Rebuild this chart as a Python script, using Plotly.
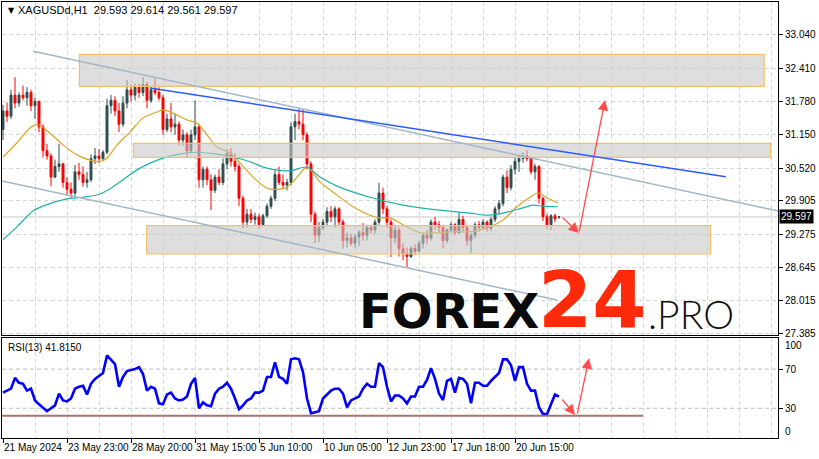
import plotly.graph_objects as go

# ---------------- data ----------------
symbol_title = "XAGUSDd,H1\u00a0\u00a029.593 29.614 29.561 29.597"
rsi_title = "RSI(13) 41.8150"
last_price = 29.597

# candles (one candle per slot)
c_open = [31.25, 31.60, 31.50, 31.90, 31.75, 31.90, 31.85, 31.95, 31.70, 31.78,
          31.30, 30.85, 30.75, 30.35, 30.55, 30.60, 30.25, 30.12, 30.05, 30.45,
          30.40, 30.25, 30.30, 30.70, 30.75, 30.70, 30.82, 31.70, 31.80, 31.60,
          31.35, 31.75, 32.00, 31.90, 32.05, 31.95, 32.10, 31.80, 32.00, 31.95,
          31.85, 31.25, 31.45, 31.30, 31.35, 31.05, 31.15, 30.85, 31.15, 31.30,
          30.30, 30.50, 30.30, 30.10, 30.35, 30.25, 30.60, 30.80, 30.65, 30.55,
          29.95, 29.50, 29.65, 29.55, 29.60, 29.45, 29.62, 29.80, 29.95, 30.40,
          30.25, 30.20, 30.25, 31.30, 31.40, 31.35, 31.15, 30.60, 29.65, 29.25,
          29.40, 29.50, 29.70, 29.60, 29.75, 29.50, 29.15, 29.20, 29.10, 29.22,
          29.30, 29.25, 29.40, 29.35, 29.50, 30.05, 29.75, 29.50, 29.20, 29.35,
          29.00, 28.90, 28.85, 29.00, 28.95, 29.10, 29.25, 29.20, 29.50, 29.45,
          29.40, 29.15, 29.35, 29.45, 29.30, 29.55, 29.40, 29.15, 29.25, 29.45,
          29.40, 29.50, 29.38, 29.55, 29.75, 29.85, 30.35, 30.15, 30.50, 30.65,
          30.70, 30.75, 30.70, 30.45, 30.55, 29.95, 29.60, 29.45, 29.62, 29.593]
c_high = [31.72, 31.76, 32.00, 32.24, 31.95, 32.08, 32.05, 32.00, 31.85, 31.80,
          31.35, 30.98, 30.80, 30.68, 30.98, 30.62, 30.35, 30.25, 30.58, 30.62,
          30.55, 30.45, 30.78, 30.90, 30.88, 30.86, 31.83, 31.90, 31.88, 31.75,
          31.88, 32.19, 32.10, 32.12, 32.12, 32.24, 32.15, 32.05, 32.22, 32.05,
          31.90, 31.55, 31.75, 31.55, 31.40, 31.25, 31.20, 31.25, 31.80, 31.35,
          30.55, 30.55, 30.40, 30.40, 30.50, 30.70, 30.88, 30.90, 30.80, 30.60,
          30.00, 29.75, 29.75, 29.68, 29.65, 29.66, 29.85, 30.00, 30.48, 30.55,
          30.40, 30.32, 31.38, 31.55, 31.65, 31.63, 31.20, 30.65, 29.70, 29.50,
          29.56, 29.78, 29.80, 29.80, 29.78, 29.55, 29.30, 29.28, 29.27, 29.35,
          29.48, 29.45, 29.45, 29.55, 30.24, 30.15, 29.80, 29.55, 29.45, 29.40,
          29.10, 29.02, 29.05, 29.08, 29.15, 29.30, 29.35, 29.55, 29.60, 29.52,
          29.45, 29.38, 29.50, 29.48, 29.68, 29.62, 29.45, 29.30, 29.50, 29.52,
          29.55, 29.53, 29.60, 29.80, 29.92, 30.40, 30.48, 30.58, 30.72, 30.76,
          30.82, 30.86, 30.72, 30.60, 30.58, 29.98, 29.65, 29.65, 29.66, 29.614]
c_low = [31.05, 31.39, 31.45, 31.65, 31.68, 31.80, 31.70, 31.60, 31.45, 31.20,
         30.72, 30.68, 30.18, 30.33, 30.45, 30.15, 30.00, 29.96, 30.00, 30.30,
         30.17, 30.15, 30.25, 30.60, 30.62, 30.66, 30.78, 31.55, 31.50, 31.20,
         31.30, 31.65, 31.78, 31.80, 31.85, 31.88, 31.65, 31.75, 31.90, 31.80,
         31.15, 31.20, 31.20, 31.15, 30.95, 30.95, 30.72, 30.80, 31.05, 30.15,
         30.15, 30.20, 29.73, 30.05, 30.20, 30.20, 30.50, 30.55, 30.45, 29.80,
         29.38, 29.40, 29.48, 29.45, 29.38, 29.42, 29.58, 29.75, 29.90, 30.20,
         30.12, 30.10, 30.20, 31.05, 31.25, 31.05, 30.50, 29.50, 29.10, 29.12,
         29.35, 29.42, 29.50, 29.40, 29.42, 29.00, 29.02, 29.05, 29.02, 29.05,
         29.15, 29.15, 29.28, 29.28, 29.45, 29.65, 29.40, 28.84, 29.10, 28.85,
         28.78, 28.65, 28.82, 28.88, 28.92, 29.00, 29.08, 29.15, 29.35, 29.30,
         29.00, 29.10, 29.30, 29.25, 29.28, 29.30, 29.05, 28.92, 29.20, 29.32,
         29.35, 29.32, 29.33, 29.50, 29.65, 29.80, 30.05, 30.10, 30.40, 30.45,
         30.62, 30.65, 30.40, 30.30, 29.85, 29.52, 29.38, 29.35, 29.50, 29.561]
c_close = [31.60, 31.50, 31.90, 31.75, 31.90, 31.85, 31.95, 31.70, 31.78, 31.30,
           30.85, 30.75, 30.35, 30.55, 30.60, 30.25, 30.12, 30.05, 30.45, 30.40,
           30.25, 30.30, 30.70, 30.75, 30.70, 30.82, 31.70, 31.80, 31.60, 31.35,
           31.75, 32.00, 31.90, 32.05, 31.95, 32.10, 31.80, 32.00, 31.95, 31.85,
           31.25, 31.45, 31.30, 31.35, 31.05, 31.15, 30.85, 31.15, 31.30, 30.30,
           30.50, 30.30, 30.10, 30.35, 30.25, 30.60, 30.80, 30.65, 30.55, 29.95,
           29.50, 29.65, 29.55, 29.60, 29.45, 29.62, 29.80, 29.95, 30.40, 30.25,
           30.20, 30.25, 31.30, 31.40, 31.35, 31.15, 30.60, 29.65, 29.25, 29.40,
           29.50, 29.70, 29.60, 29.75, 29.50, 29.15, 29.20, 29.10, 29.22, 29.30,
           29.25, 29.40, 29.35, 29.50, 30.05, 29.75, 29.50, 29.20, 29.35, 29.00,
           28.90, 28.85, 29.00, 28.95, 29.10, 29.25, 29.20, 29.50, 29.45, 29.40,
           29.15, 29.35, 29.45, 29.30, 29.55, 29.40, 29.15, 29.25, 29.45, 29.40,
           29.50, 29.38, 29.55, 29.75, 29.85, 30.35, 30.15, 30.50, 30.65, 30.70,
           30.75, 30.70, 30.45, 30.55, 29.95, 29.60, 29.45, 29.62, 29.56, 29.597]

# moving averages (slot position, value)
ma_fast_x = [0, 3.5, 6.75, 8.75, 11.75, 15, 18.5, 21.75, 24.25, 26, 28.5, 31.75, 35, 38.5, 40,
             42.5, 46, 48.5, 51, 53.5, 56.75, 59.25, 62.5, 66, 68.5, 71, 73.5, 76, 79.25, 83.5,
             87.5, 91.75, 94.25, 96.75, 100, 104.25, 108.5, 112.5, 116.75, 121, 125, 128.5,
             131.75, 133.75, 136, 138.75]
ma_fast = [30.73, 31.00, 31.28, 31.34, 31.18, 30.96, 30.77, 30.67, 30.64, 30.71, 30.96, 31.20,
           31.47, 31.58, 31.62, 31.56, 31.43, 31.37, 31.15, 30.92, 30.81, 30.62, 30.35, 30.14,
           30.12, 30.16, 30.35, 30.54, 30.26, 30.01, 29.79, 29.63, 29.58, 29.58, 29.45, 29.30,
           29.30, 29.32, 29.32, 29.39, 29.54, 29.79, 29.97, 30.05, 29.96, 29.86]
ma_slow_x = [0, 3.5, 7.5, 11, 16, 20, 24.25, 26.75, 30, 34.25, 39.25, 44.25, 48.5, 53, 57.5,
             61.75, 66, 71.75, 76, 79.25, 83.5, 91.75, 100, 108.5, 116.75, 121, 125, 130,
             132.5, 135, 138.75]
ma_slow = [29.17, 29.41, 29.71, 29.83, 29.94, 29.97, 30.03, 30.13, 30.30, 30.52, 30.69, 30.79,
           30.82, 30.79, 30.73, 30.64, 30.52, 30.47, 30.54, 30.35, 30.18, 29.97, 29.82, 29.73,
           29.67, 29.63, 29.67, 29.77, 29.82, 29.80, 29.79]

# RSI(13), one value per candle
rsi = [46, 48, 50, 61, 56, 55, 48, 50, 38, 34,
       30, 27, 30, 33, 45, 38, 37, 40, 50, 52,
       53, 44, 55, 60, 63, 66, 84, 80, 75, 52,
       62, 68, 69, 70, 72, 65, 48, 52, 50, 35,
       34, 44, 46, 40, 38, 39, 42, 55, 61, 30,
       36, 33, 32, 45, 50, 52, 56, 50, 40, 29,
       33, 38, 40, 46, 46, 48, 62, 62, 77, 62,
       60, 55, 80, 81, 80, 67, 40, 25, 26, 27,
       40, 44, 48, 50, 50, 45, 31, 38, 40, 42,
       50, 55, 52, 52, 76, 72, 52, 37, 43, 43,
       40, 35, 42, 42, 52, 52, 59, 71, 60, 45,
       38.5, 58, 60, 46, 61, 60, 55, 35, 56, 56,
       53, 53, 58, 62, 66, 80, 80, 74, 58, 72,
       72, 55, 48, 48, 31, 24, 24, 34, 44, 41.8150]
rsi_level = 22.4

# axis labels
price_ticks = [27.385, 28.015, 28.645, 29.275, 29.905, 30.520, 31.150, 31.780, 32.410, 33.040]
time_tick_slots = [0, 16, 32, 48, 64, 80, 96, 112, 128]
time_tick_labels = ["21 May 2024", "23 May 23:00", "28 May 20:00", "31 May 15:00", "5 Jun 10:00",
                    "10 Jun 05:00", "12 Jun 23:00", "17 Jun 18:00", "20 Jun 15:00"]

# drawn objects (slot, price)
zones = [  # x0, x1, price low, price high
    (19.1, 190.3, 32.066, 32.671),
    (32.6, 191.9, 30.725, 30.986),
    (35.9, 176.9, 28.897, 29.432),
]
channel_upper = (7.5, 32.73, 193.75, 29.71)
channel_lower = (-0.25, 30.277, 138.5, 28.028)
trend_blue = (36.75, 32.034, 180.7, 30.358)
price_arrows = [  # tail x, tail y, head x, head y
    (139.5, 29.615, 144.0, 29.294),
    (144.0, 29.294, 150.5, 31.808),
]
rsi_arrows = [
    (139.5, 40.5, 143.0, 23.1),
    (143.5, 23.1, 146.5, 81.0),
]

# ---------------- figure ----------------
W, H = 819, 459
ML, MR, MT, MB = 2, 41, 2, 21
PW, PH = W - ML - MR, H - MT - MB


def pxx(X):
    return (X - ML) / PW


def pxy(Y):
    return (H - MB - Y) / PH


GRID = "#D6D6D6"
DASH = "4px,3px"
FONT = "Liberation Sans"

slots = list(range(len(c_close)))

fig = go.Figure()
fig.add_trace(go.Candlestick(
    x=slots, open=c_open, high=c_high, low=c_low, close=c_close,
    increasing=dict(line=dict(color="#2F4F4F", width=1), fillcolor="#2F4F4F"),
    decreasing=dict(line=dict(color="#FF0000", width=1), fillcolor="#FF0000"),
    whiskerwidth=0, xaxis="x", yaxis="y", hoverinfo="skip"))
fig.add_trace(go.Scatter(x=ma_fast_x, y=ma_fast, mode="lines",
                         line=dict(color="#DAA520", width=1.2, shape="spline", smoothing=0.8),
                         xaxis="x", yaxis="y", hoverinfo="skip"))
fig.add_trace(go.Scatter(x=ma_slow_x, y=ma_slow, mode="lines",
                         line=dict(color="#20B2AA", width=1.2, shape="spline", smoothing=0.8),
                         xaxis="x", yaxis="y", hoverinfo="skip"))
fig.add_trace(go.Scatter(x=slots, y=rsi, mode="lines",
                         line=dict(color="#0000FF", width=2.6),
                         xaxis="x2", yaxis="y2", hoverinfo="skip"))

shapes = []
# last price line
shapes.append(dict(type="line", xref="x domain", yref="y", x0=0, x1=1, y0=last_price, y1=last_price,
                   line=dict(color="#C8C8C8", width=1), layer="below"))
# zones
for x0, x1, lo, hi in zones:
    shapes.append(dict(type="rect", xref="x", yref="y", x0=x0, x1=x1, y0=lo, y1=hi,
                       fillcolor="rgba(200,200,200,0.6)",
                       line=dict(color="#F3C169", width=1.2), layer="above"))
# trend lines
for (x0, y0, x1, y1), col in [(channel_upper, "#A3B6C6"), (channel_lower, "#A3B6C6"),
                              (trend_blue, "#2A5BFF")]:
    shapes.append(dict(type="line", xref="x", yref="y", x0=x0, y0=y0, x1=x1, y1=y1,
                       line=dict(color=col, width=1.5), layer="above"))
# RSI levels
for lv in (30, 70):
    shapes.append(dict(type="line", xref="x2 domain", yref="y2", x0=0, x1=1, y0=lv, y1=lv,
                       line=dict(color="#BDBDBD", width=1, dash=DASH), layer="below"))
shapes.append(dict(type="line", xref="x2", yref="y2", x0=-0.25, x1=160, y0=rsi_level, y1=rsi_level,
                   line=dict(color="rgba(150,90,85,0.85)", width=2), layer="above"))

annotations = []
for tx, ty, hx, hy in price_arrows:
    annotations.append(dict(x=hx, y=hy, ax=tx, ay=ty, xref="x", yref="y", axref="x", ayref="y",
                            text="", showarrow=True, arrowhead=2, arrowsize=1.6, arrowwidth=1.3,
                            arrowcolor="#FF4D4D", standoff=0, startstandoff=0))
for tx, ty, hx, hy in rsi_arrows:
    annotations.append(dict(x=hx, y=hy, ax=tx, ay=ty, xref="x2", yref="y2", axref="x2", ayref="y2",
                            text="", showarrow=True, arrowhead=2, arrowsize=1.6, arrowwidth=1.3,
                            arrowcolor="#FF4D4D", standoff=0, startstandoff=0))

# titles
annotations.append(dict(xref="paper", yref="paper", x=pxx(6), y=pxy(10), xanchor="left", yanchor="middle",
                        text="\u25BC", showarrow=False, font=dict(family="DejaVu Sans", size=8, color="black")))
annotations.append(dict(xref="paper", yref="paper", x=pxx(16), y=pxy(10), xanchor="left", yanchor="middle",
                        text=symbol_title, showarrow=False, font=dict(family=FONT, size=11, color="black")))
annotations.append(dict(xref="paper", yref="paper", x=pxx(6), y=pxy(347), xanchor="left", yanchor="middle",
                        text=rsi_title, showarrow=False, font=dict(family=FONT, size=10, color="black")))
# last price tag
annotations.append(dict(xref="paper", yref="y", x=1, y=last_price, xanchor="left", yanchor="middle",
                        xshift=1, text=f"{last_price:.3f}", showarrow=False, bgcolor="black", borderpad=1,
                        font=dict(family=FONT, size=10, color="white")))
# RSI 100 / 0 labels
annotations.append(dict(xref="paper", yref="paper", x=1, y=pxy(345), xanchor="left", yanchor="middle",
                        xshift=5, text="100", showarrow=False, font=dict(family=FONT, size=10, color="black")))
annotations.append(dict(xref="paper", yref="paper", x=1, y=pxy(431), xanchor="left", yanchor="middle",
                        xshift=5, text="0", showarrow=False, font=dict(family=FONT, size=10, color="black")))
# watermark
annotations.append(dict(xref="paper", yref="paper", x=pxx(449), y=pxy(310.5), xanchor="center", yanchor="middle",
                        text="FOREX", showarrow=False,
                        font=dict(family="DejaVu Sans", size=48, color="#0A0A0A", weight="bold")))
annotations.append(dict(xref="paper", yref="paper", x=pxx(592), y=pxy(300), xanchor="center", yanchor="middle",
                        text="24", showarrow=False,
                        font=dict(family="DejaVu Sans", size=78, color="#FF2A0A", weight="bold")))
annotations.append(dict(xref="paper", yref="paper", x=pxx(691), y=pxy(314), xanchor="center", yanchor="middle",
                        text=".PRO", showarrow=False,
                        font=dict(family="Lato", size=39, color="#111111", weight=300)))

grid_all = list(range(0, 193, 8))
grid_minor = [v for v in grid_all if v not in time_tick_slots]

main_bottom = pxy(335)
rsi_top = pxy(338)

fig.update_layout(
    width=W, height=H, margin=dict(l=ML, r=MR, t=MT, b=MB, autoexpand=False),
    paper_bgcolor="white", plot_bgcolor="white", showlegend=False,
    font=dict(family=FONT, size=10, color="black"),
    xaxis=dict(domain=[0, 1], anchor="y", range=[-0.25, 193.75], tickmode="array", tickvals=grid_all,
               showticklabels=False, ticks="", showgrid=True, gridcolor=GRID, griddash=DASH,
               showline=True, mirror=True, linecolor="black", linewidth=1, zeroline=False,
               rangeslider=dict(visible=False)),
    yaxis=dict(domain=[main_bottom, 1], anchor="x", side="right", range=[27.366, 33.660],
               tickmode="array", tickvals=price_ticks, ticktext=[f"{v:.3f}" for v in price_ticks],
               ticks="outside", ticklen=4, tickcolor="black", showgrid=True, gridcolor=GRID, griddash=DASH,
               showline=True, mirror=True, linecolor="black", linewidth=1, zeroline=False,
               tickfont=dict(family=FONT, size=10)),
    xaxis2=dict(domain=[0, 1], anchor="y2", matches="x", range=[-0.25, 193.75], tickmode="array",
                tickvals=time_tick_slots, ticktext=time_tick_labels, ticks="outside", ticklen=4,
                tickcolor="black", ticklabelposition="outside right", tickangle=0,
                showgrid=True, gridcolor=GRID, griddash=DASH,
                minor=dict(tickmode="array", tickvals=grid_minor, showgrid=True, gridcolor=GRID,
                           griddash=DASH, ticks=""),
                showline=True, mirror=True, linecolor="black", linewidth=1, zeroline=False,
                tickfont=dict(family=FONT, size=10)),
    yaxis2=dict(domain=[0, rsi_top], anchor="x2", side="right", range=[-0.4, 101.8],
                tickmode="array", tickvals=[70, 30], ticktext=["70", "30"],
                ticks="outside", ticklen=4, tickcolor="black", showgrid=False,
                showline=True, mirror=True, linecolor="black", linewidth=1, zeroline=False,
                tickfont=dict(family=FONT, size=10)),
    shapes=shapes, annotations=annotations,
)

fig.write_html("out.html", config={"displayModeBar": False},
               post_script="document.body.style.margin='0';document.body.style.overflow='hidden';")
